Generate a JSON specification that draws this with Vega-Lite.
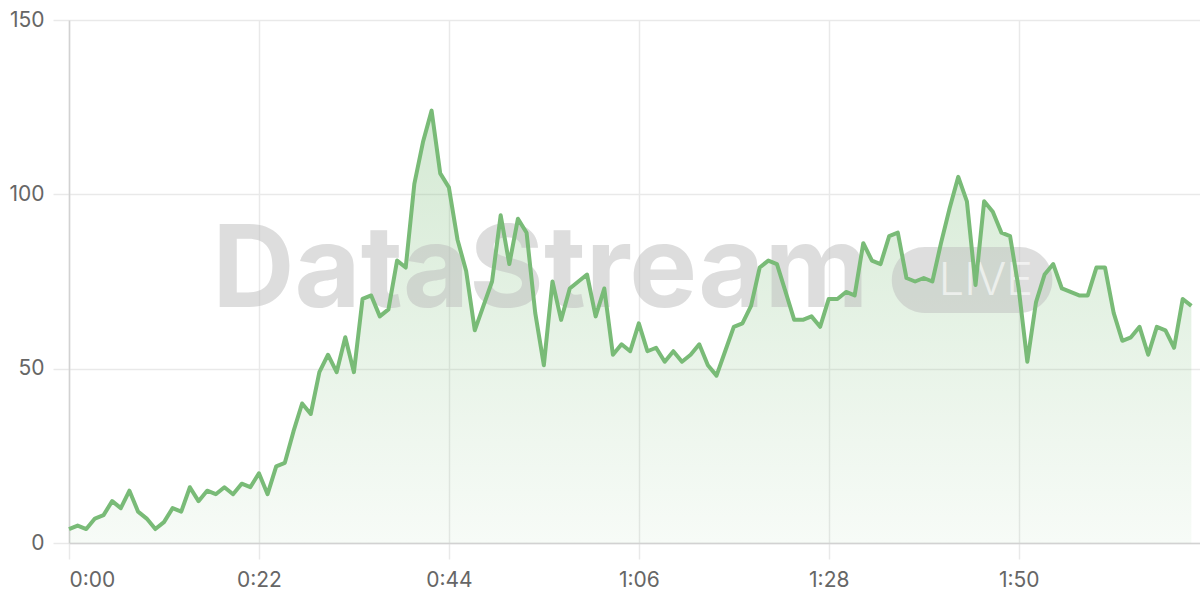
{
  "$schema": "https://vega.github.io/schema/vega-lite/v6.json",
  "width": 1131,
  "height": 523,
  "autosize": "none",
  "padding": {"left": 69, "top": 20, "right": 0, "bottom": 57},
  "background": "white",
  "config": {
    "view": {"stroke": null},
    "font": "Inter",
    "axis": {
      "labelFont": "Inter",
      "labelFontSize": 21,
      "labelColor": "#666666",
      "gridColor": "#e9e9e9",
      "gridWidth": 1.5,
      "tickColor": "#e9e9e9",
      "tickWidth": 1.5,
      "tickSize": 16,
      "domainColor": "#d2d2d2",
      "domainWidth": 1.5,
      "title": null
    }
  },
  "datasets": {
    "series": [
      {"t": 0, "v": 4}, {"t": 1, "v": 5}, {"t": 2, "v": 4}, {"t": 3, "v": 7}, {"t": 4, "v": 8},
      {"t": 5, "v": 12}, {"t": 6, "v": 10}, {"t": 7, "v": 15}, {"t": 8, "v": 9}, {"t": 9, "v": 7},
      {"t": 10, "v": 4}, {"t": 11, "v": 6}, {"t": 12, "v": 10}, {"t": 13, "v": 9}, {"t": 14, "v": 16},
      {"t": 15, "v": 12}, {"t": 16, "v": 15}, {"t": 17, "v": 14}, {"t": 18, "v": 16}, {"t": 19, "v": 14},
      {"t": 20, "v": 17}, {"t": 21, "v": 16}, {"t": 22, "v": 20}, {"t": 23, "v": 14}, {"t": 24, "v": 22},
      {"t": 25, "v": 23}, {"t": 26, "v": 32}, {"t": 27, "v": 40}, {"t": 28, "v": 37}, {"t": 29, "v": 49},
      {"t": 30, "v": 54}, {"t": 31, "v": 49}, {"t": 32, "v": 59}, {"t": 33, "v": 49}, {"t": 34, "v": 70},
      {"t": 35, "v": 71}, {"t": 36, "v": 65}, {"t": 37, "v": 67}, {"t": 38, "v": 81}, {"t": 39, "v": 79},
      {"t": 40, "v": 103}, {"t": 41, "v": 115}, {"t": 42, "v": 124}, {"t": 43, "v": 106}, {"t": 44, "v": 102},
      {"t": 45, "v": 87}, {"t": 46, "v": 78}, {"t": 47, "v": 61}, {"t": 48, "v": 68}, {"t": 49, "v": 75},
      {"t": 50, "v": 94}, {"t": 51, "v": 80}, {"t": 52, "v": 93}, {"t": 53, "v": 89}, {"t": 54, "v": 66},
      {"t": 55, "v": 51}, {"t": 56, "v": 75}, {"t": 57, "v": 64}, {"t": 58, "v": 73}, {"t": 59, "v": 75},
      {"t": 60, "v": 77}, {"t": 61, "v": 65}, {"t": 62, "v": 73}, {"t": 63, "v": 54}, {"t": 64, "v": 57},
      {"t": 65, "v": 55}, {"t": 66, "v": 63}, {"t": 67, "v": 55}, {"t": 68, "v": 56}, {"t": 69, "v": 52},
      {"t": 70, "v": 55}, {"t": 71, "v": 52}, {"t": 72, "v": 54}, {"t": 73, "v": 57}, {"t": 74, "v": 51},
      {"t": 75, "v": 48}, {"t": 76, "v": 55}, {"t": 77, "v": 62}, {"t": 78, "v": 63}, {"t": 79, "v": 68},
      {"t": 80, "v": 79}, {"t": 81, "v": 81}, {"t": 82, "v": 80}, {"t": 83, "v": 72}, {"t": 84, "v": 64},
      {"t": 85, "v": 64}, {"t": 86, "v": 65}, {"t": 87, "v": 62}, {"t": 88, "v": 70}, {"t": 89, "v": 70},
      {"t": 90, "v": 72}, {"t": 91, "v": 71}, {"t": 92, "v": 86}, {"t": 93, "v": 81}, {"t": 94, "v": 80},
      {"t": 95, "v": 88}, {"t": 96, "v": 89}, {"t": 97, "v": 76}, {"t": 98, "v": 75}, {"t": 99, "v": 76},
      {"t": 100, "v": 75}, {"t": 101, "v": 86}, {"t": 102, "v": 96}, {"t": 103, "v": 105}, {"t": 104, "v": 98},
      {"t": 105, "v": 74}, {"t": 106, "v": 98}, {"t": 107, "v": 95}, {"t": 108, "v": 89}, {"t": 109, "v": 88},
      {"t": 110, "v": 73}, {"t": 111, "v": 52}, {"t": 112, "v": 69}, {"t": 113, "v": 77}, {"t": 114, "v": 80},
      {"t": 115, "v": 73}, {"t": 116, "v": 72}, {"t": 117, "v": 71}, {"t": 118, "v": 71}, {"t": 119, "v": 79},
      {"t": 120, "v": 79}, {"t": 121, "v": 66}, {"t": 122, "v": 58}, {"t": 123, "v": 59}, {"t": 124, "v": 62},
      {"t": 125, "v": 54}, {"t": 126, "v": 62}, {"t": 127, "v": 61}, {"t": 128, "v": 56}, {"t": 129, "v": 70},
      {"t": 130, "v": 68}
    ],
    "wordmark": [{"label": "DataStream", "t": 54.6, "v": 67.7}],
    "badge": [{"label": "LIVE", "t": 95.3, "t2": 113.9, "v": 66, "v2": 84.9, "tc": 106.2, "vc": 71.1}]
  },
  "layer": [
    {
      "data": {"name": "series"},
      "mark": {"type": "area", "color": {
        "gradient": "linear", "x1": 0, "y1": 0, "x2": 0, "y2": 1,
        "stops": [
          {"offset": 0, "color": "rgba(122,188,120,0.32)"},
          {"offset": 1, "color": "rgba(122,188,120,0.06)"}
        ]
      }},
      "encoding": {
        "x": {"field": "t", "type": "quantitative",
          "scale": {"domain": [0, 131], "nice": false, "zero": false},
          "axis": {
            "values": [0, 22, 44, 66, 88, 110],
            "grid": true,
            "domain": true,
            "labelPadding": 10,
            "labelExpr": "floor(datum.value/60) + ':' + (datum.value % 60 < 10 ? '0' : '') + (datum.value % 60)"
          }},
        "y": {"field": "v", "type": "quantitative",
          "scale": {"domain": [0, 150], "nice": false},
          "axis": {"values": [0, 50, 100, 150], "grid": true, "domain": true, "labelPadding": 9}}
      }
    },
    {
      "data": {"name": "wordmark"},
      "mark": {"type": "text", "font": "Inter", "fontWeight": "bold", "fontSize": 114, "align": "center", "baseline": "alphabetic", "color": "#bdbdbd", "opacity": 0.5},
      "encoding": {
        "x": {"field": "t", "type": "quantitative"},
        "y": {"field": "v", "type": "quantitative"},
        "text": {"field": "label"}
      }
    },
    {
      "data": {"name": "badge"},
      "mark": {"type": "rect", "cornerRadius": 33, "color": "#bdbdbd", "opacity": 0.5},
      "encoding": {
        "x": {"field": "t", "type": "quantitative"},
        "x2": {"field": "t2"},
        "y": {"field": "v", "type": "quantitative"},
        "y2": {"field": "v2"}
      }
    },
    {
      "data": {"name": "badge"},
      "mark": {"type": "text", "font": "Inter", "fontWeight": 300, "fontSize": 45, "align": "center", "baseline": "alphabetic", "color": "#ffffff", "opacity": 0.6},
      "encoding": {
        "x": {"field": "tc", "type": "quantitative"},
        "y": {"field": "vc", "type": "quantitative"},
        "text": {"field": "label"}
      }
    },
    {
      "data": {"name": "series"},
      "mark": {"type": "line", "color": "#79bb77", "strokeWidth": 4, "strokeJoin": "round"},
      "encoding": {
        "x": {"field": "t", "type": "quantitative"},
        "y": {"field": "v", "type": "quantitative"}
      }
    }
  ]
}
